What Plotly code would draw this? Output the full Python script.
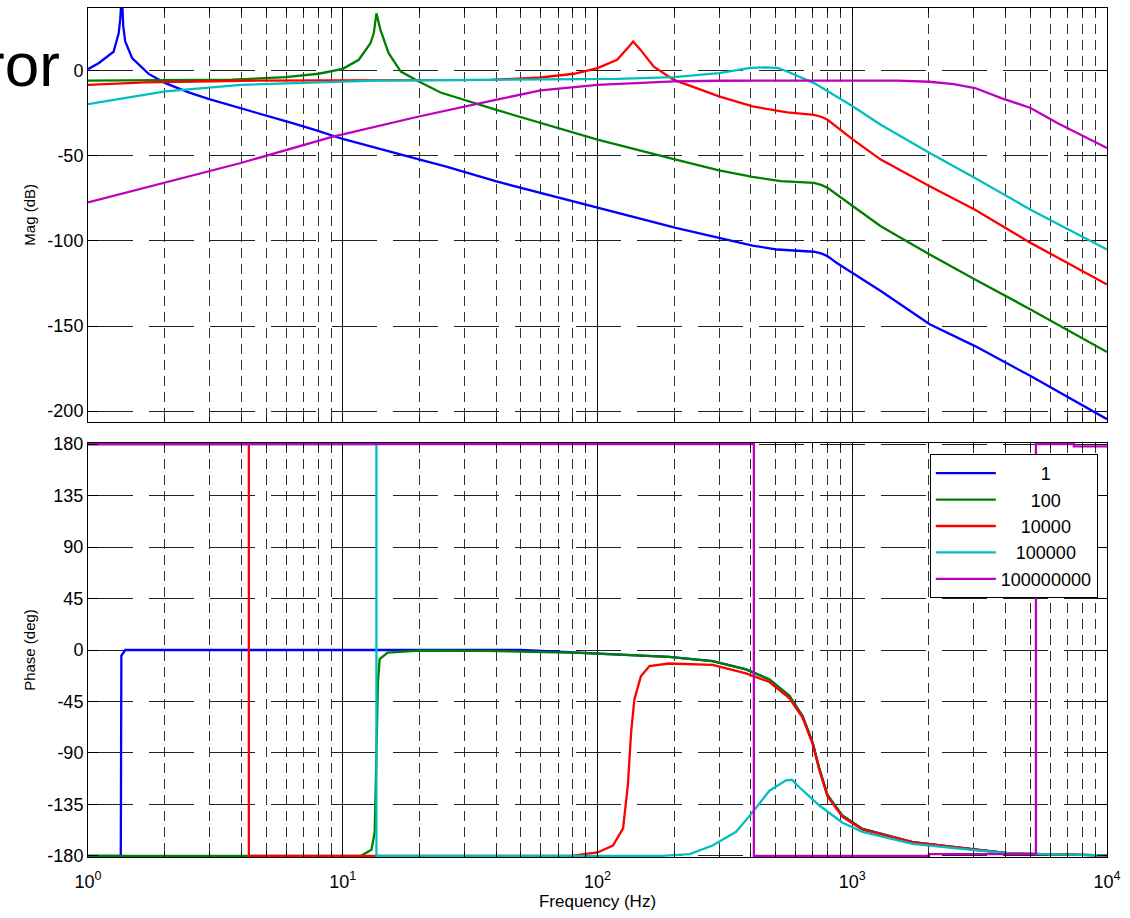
import plotly.graph_objects as go

# ---------------- data ----------------
legend_names = ["1", "100", "10000", "100000", "100000000"]
colors = ["#0000FF", "#008000", "#FF0000", "#00BFBF", "#BF00BF"]

# Magnitude (dB)
f_mag_1 = [1, 1.1, 1.26, 1.32, 1.338, 1.358, 1.375, 1.40, 1.49, 1.73, 2.01, 2.5, 2.99, 3.98, 5.01, 6.3, 7.94,
           10, 19.9, 25.3, 39.8, 100, 203, 300, 406, 508, 628, 708, 760, 800, 870, 1007, 1294, 2014, 3034,
           5012, 10000]
mag_1 = [0.8, 4.3, 11, 22, 30, 45, 26, 17, 7.3, -2, -7.4, -13, -16.8, -22, -26.5, -30.8, -35.3,
         -40.2, -52.2, -56.3, -65, -80.7, -92.4, -98.3, -102.8, -105.1, -106, -106.4, -107.5, -109, -113,
         -119.2, -129.5, -149, -161.8, -179.4, -204.7]

f_mag_100 = [1, 3.66, 5.96, 8.04, 10, 11.56, 12.85, 13.24, 13.56, 13.75, 14.06, 15.14, 16.9, 19.9, 24.2,
             39.8, 59.8, 100, 203, 300, 406, 524, 708, 760, 800, 870, 1007, 1294, 2014, 3034, 5012, 10000]
mag_100 = [-5.9, -5.4, -3.9, -1.9, 1.0, 6.3, 16, 22, 33.6, 29, 23.9, 10.2, -0.6, -6.4, -12.9,
           -23, -30.8, -40.6, -52.3, -58.6, -62.5, -65, -66, -67.3, -68.9, -73, -79.7, -91.4, -108, -122.7,
           -140.3, -165.3]

f_mag_1e4 = [1, 1.68, 4.03, 38, 59.8, 80.9, 100, 119.4, 132.7, 138, 147.6, 166.3, 199.5, 300, 406, 524, 556,
             708, 760, 800, 870, 1007, 1294, 2014, 3034, 5012, 10000]
mag_1e4 = [-8.4, -7, -6, -5.5, -4.1, -1.9, 1.4, 6.3, 14, 17, 12.1, 2.3, -5.5, -15.2, -21.1, -24, -24.6,
           -26, -27.3, -28.9, -33, -40.6, -52.3, -68, -81.7, -101.2, -125.6]

f_mag_1e5 = [1, 1.5, 2.01, 3.98, 10, 13.5, 119.4, 199.5, 300, 398, 450, 509, 556, 628, 708, 1007, 1294, 2014,
             3034, 5012, 10000]
mag_1e5 = [-19.7, -15.5, -12.3, -8.4, -6.4, -5.9, -4.9, -3.9, -1.5, 1.5, 1.8, 1.5, -0.6, -3.9, -7.4, -21.1,
           -31.8, -48.4, -63.1, -81.7, -105.1]

f_mag_1e8 = [1, 2.01, 3.98, 9.08, 19.9, 39.8, 59.8, 100, 199.5, 300, 406, 1500, 2014, 2500, 3034, 3846,
             5012, 6383, 10000]
mag_1e8 = [-77.4, -65.6, -54.3, -39, -27, -17.2, -11.7, -8.4, -6.4, -6.0, -5.9, -5.9, -6.6, -8.0, -10.3,
           -16.2, -22, -30.8, -45.5]

# Phase (deg)
f_ph_1 = [1, 1.345, 1.352, 1.40, 50, 85, 191, 283, 383, 473, 566, 638, 699, 743, 800, 916, 1097, 1725,
          3150, 4250, 10000]
ph_1 = [-180, -180, -5, 0, 0, -2.5, -6, -9.8, -17, -25.7, -40, -57.7, -81, -104, -127, -145, -156.5, -168,
        -175, -178, -179.5]

f_ph_100 = [1, 11.8, 12.96, 13.35, 13.75, 13.96, 15, 20, 36, 85, 191, 283, 383, 473, 566, 638, 699, 743,
            800, 916, 1097, 1725, 3150, 4250, 10000]
ph_100 = [-180, -180, -174.7, -159, -28, -8, -2.3, -0.5, -0.8, -2.5, -6, -9.8, -17, -25.7, -40, -57.7, -81,
          -104, -127, -145, -156.5, -168, -175, -178, -179.5]

f_ph_1e4 = [1, 4.28, 4.28, 79, 100, 115, 126, 131.5, 135.5, 139.6, 148, 160, 191, 283, 383, 473, 566, 638,
            699, 743, 800, 916, 1097, 1725, 3150, 4250, 10000]
ph_1e4 = [180, 180, -180, -180, -177, -171, -156, -118.7, -72, -43, -23, -14, -11.8, -13, -20.5, -28, -42,
          -59, -82, -105, -128, -146, -157, -168, -175, -178, -179.5]

f_ph_1e5 = [1, 13.56, 13.56, 180, 230, 283, 350, 406, 473, 550, 580, 620, 743, 916, 1097, 1725, 3150, 4250,
            10000]
ph_1e5 = [180, 180, -180, -180, -178.5, -171, -159, -142, -123, -114, -113.5, -120, -136, -151, -159,
          -169.6, -175.4, -178, -179.5]

f_ph_1e8 = [1, 411, 411, 2000, 2000, 5260, 5260, 7413, 7413, 10000]
ph_1e8 = [180, 180, -180, -180, -178.5, -178.5, 180, 180, 178, 178]

mag_f = [f_mag_1, f_mag_100, f_mag_1e4, f_mag_1e5, f_mag_1e8]
mag_v = [mag_1, mag_100, mag_1e4, mag_1e5, mag_1e8]
ph_f = [f_ph_1, f_ph_100, f_ph_1e4, f_ph_1e5, f_ph_1e8]
ph_v = [ph_1, ph_100, ph_1e4, ph_1e5, ph_1e8]

decades = [1, 10, 100, 1000, 10000]
decade_text = ["10<sup>0</sup>", "10<sup>1</sup>", "10<sup>2</sup>", "10<sup>3</sup>", "10<sup>4</sup>"]
minor_vals = [k * 10 ** d for d in range(4) for k in range(2, 10)]
mag_ticks = [-200, -150, -100, -50, 0]
mag_text = ["-200", "-150", "-100", "-50", "0"]
phase_ticks = [-180, -135, -90, -45, 0, 45, 90, 135, 180]
phase_text = ["-180", "-135", "-90", "-45", "0", "45", "90", "135", "180"]

# ---------------- figure ----------------
FONT = "Arial, Liberation Sans, sans-serif"
LW = 2.3

fig = go.Figure()
for i, name in enumerate(legend_names):
    fig.add_trace(go.Scatter(x=mag_f[i], y=mag_v[i], mode="lines", xaxis="x", yaxis="y",
                             line=dict(color=colors[i], width=LW), showlegend=False, hoverinfo="skip"))
for i, name in enumerate(legend_names):
    pad = "\u00a0" * (9 - len(name))
    fig.add_trace(go.Scatter(x=ph_f[i], y=ph_v[i], mode="lines", xaxis="x2", yaxis="y2",
                             line=dict(color=colors[i], width=LW), name=pad + name, showlegend=True))

common_x = dict(
    type="log", range=[0, 4], showline=True, linecolor="black", linewidth=1, mirror="ticks",
    tickmode="array", tickvals=decades, ticks="inside", ticklen=8, tickcolor="black", automargin=False,
    showgrid=True, gridcolor="#111111", gridwidth=1, zeroline=False,
    minor=dict(tickmode="array", tickvals=minor_vals, ticks="inside", ticklen=5, tickcolor="black",
               showgrid=True, gridcolor="#333333", gridwidth=1, griddash="10px,6px"),
    tickfont=dict(family=FONT, size=18, color="black"),
)
common_y = dict(
    showline=True, linecolor="black", linewidth=1, mirror="ticks", ticks="inside", ticklen=10,
    tickcolor="black", showgrid=True, gridcolor="#222222", gridwidth=1, griddash="45px,16px",
    zeroline=False, tickfont=dict(family=FONT, size=18, color="black"), tickmode="array", automargin=False,
)

fig.update_layout(
    width=1130, height=918,
    paper_bgcolor="white", plot_bgcolor="white",
    margin=dict(l=88, r=23, t=8, b=61),
    font=dict(family=FONT, color="black"),
    xaxis=dict(common_x, domain=[0, 1], anchor="y", showticklabels=False),
    yaxis=dict(common_y, domain=[0.5127, 1], anchor="x", range=[-206.2, 36.7], tickvals=mag_ticks,
               ticktext=mag_text,
               title=dict(text="Mag (dB)", font=dict(family=FONT, size=15), standoff=8)),
    xaxis2=dict(common_x, domain=[0, 1], anchor="y2", ticktext=decade_text, ticklabelstandoff=8,
                title=dict(text="Frequency (Hz)", font=dict(family=FONT, size=17), standoff=2)),
    yaxis2=dict(common_y, domain=[0, 0.4876], anchor="x2", range=[-181, 181], tickvals=phase_ticks,
                ticktext=phase_text,
                title=dict(text="Phase (deg)", font=dict(family=FONT, size=15), standoff=8)),
    legend=dict(x=0.991, y=0.4747, xanchor="right", yanchor="top", bgcolor="white",
                bordercolor="black", borderwidth=1, font=dict(family=FONT, size=18, color="black"),
                itemwidth=60),
    showlegend=True,
    annotations=[dict(text="ror", xref="paper", yref="paper", x=-0.0255, y=(857 - 64) / 849,
                      xanchor="right", yanchor="middle", showarrow=False,
                      font=dict(family=FONT, size=62, color="black"))],
)

fig.write_html("out.html", config={"displayModeBar": False},
               post_script="document.body.style.margin='0';")
